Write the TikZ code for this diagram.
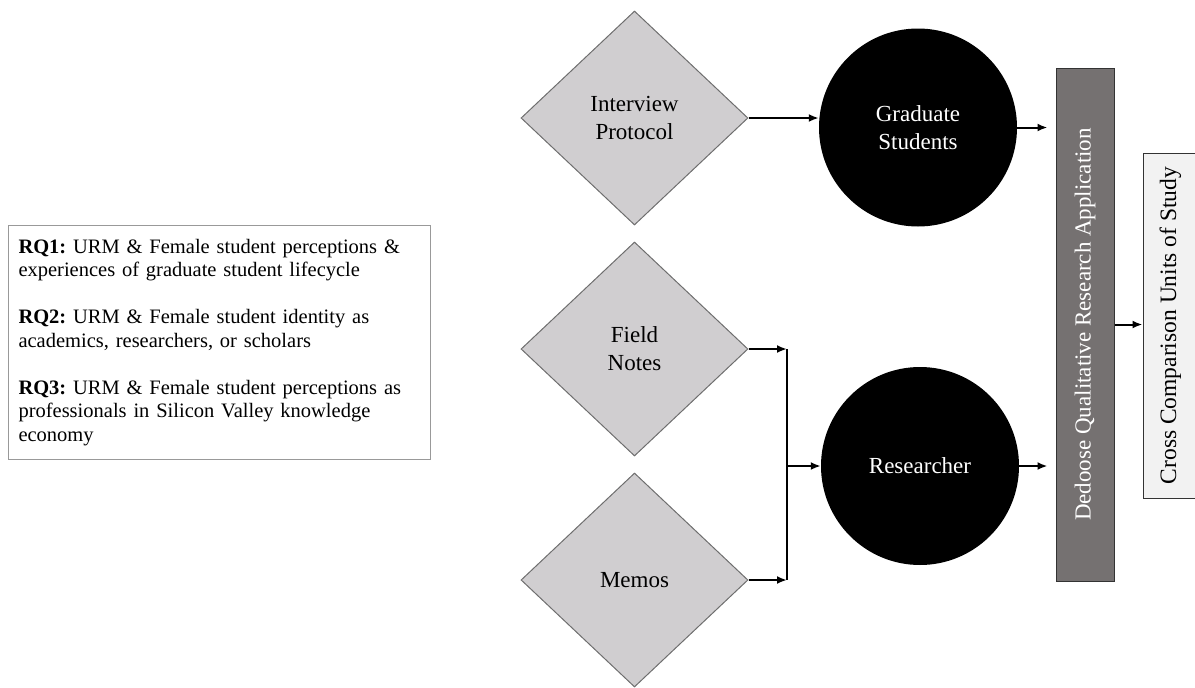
\documentclass[tikz,border=0pt]{standalone}
\usepackage{fontspec}
\setmainfont{Liberation Serif}
\usepackage{xcolor}
\usetikzlibrary{shapes.geometric, arrows.meta}
\definecolor{diamondgray}{HTML}{D0CED0}
\definecolor{edgegray}{HTML}{6E6E6E}
\definecolor{dedoosegray}{HTML}{757171}
\definecolor{crossgray}{HTML}{F2F2F2}
\tikzset{>={Latex[length=10pt,width=8pt]}}
\tikzset{
  source/.style={diamond, aspect=1.06, minimum width=227pt, minimum height=214pt,
    inner sep=0pt, fill=diamondgray, draw=edgegray, line width=1pt, align=center,
    font=\fontsize{23}{28}\selectfont},
  unit/.style={circle, minimum size=198pt, inner sep=0pt, fill=black, text=white,
    align=center, font=\fontsize{23}{28}\selectfont},
  flow/.style={->, line width=2pt},
}
\frenchspacing

\begin{document}
\begin{tikzpicture}[x=1pt, y=-1pt]
\useasboundingbox (0,0) rectangle (1195,688);

% Research questions
\node[draw=gray!80, line width=1pt, anchor=north west, minimum width=422pt,
  minimum height=234pt, text width=402pt, inner xsep=10pt, align=left,
  font=\fontsize{20.5}{23.5}\selectfont] (rq) at (8,225)
  {\textbf{RQ1:} URM \& Female student perceptions \&\\
   experiences of graduate student lifecycle\\[23.5pt]
   \textbf{RQ2:} URM \& Female student identity as\\
   academics, researchers, or scholars\\[23.5pt]
   \textbf{RQ3:} URM \& Female student perceptions as\\
   professionals in Silicon Valley knowledge\\
   economy};

% Data sources
\node[source] (ip) at (634.5,118) {Interview\\Protocol};
\node[source] (fn) at (634.5,349) {Field\\Notes};
\node[source] (memo) at (634.5,580) {Memos};

% Units of study
\node[unit] (grad) at (918,127.5) {Graduate\\Students};
\node[unit] (res) at (920,466) {Researcher};

% Application and comparison
\node[rotate=90, minimum width=513pt, minimum height=58pt, inner sep=0pt,
  fill=dedoosegray, draw=black!80, line width=1pt, text=white,
  font=\fontsize{23}{28}\selectfont] (dedoose) at (1085,324.5)
  {Dedoose Qualitative Research Application};
\node[rotate=90, minimum width=345pt, minimum height=55pt, inner sep=0pt,
  fill=crossgray, draw=black!80, line width=1pt,
  font=\fontsize{23.5}{28}\selectfont] (cross) at (1170.5,325.5)
  {Cross Comparison Units of Study};

% Arrows
\coordinate (jx) at (787,0);
\draw[flow] (ip.east) -- (ip.east -| grad.west);
\draw[flow] (fn.east) -- (fn.east -| jx);
\draw[flow] (memo.east) -- (memo.east -| jx);
\draw[line width=2pt] (fn.east -| jx) -- (memo.east -| jx);
\draw[flow] (jx |- res.west) -- (res.west);
\draw[flow, shorten >=8pt] (grad.east) -- (grad.east -| dedoose.north);
\draw[flow, shorten >=8pt] (res.east) -- (res.east -| dedoose.north);
\draw[flow] (dedoose.south) -- (dedoose.south -| cross.north);

\end{tikzpicture}
\end{document}
